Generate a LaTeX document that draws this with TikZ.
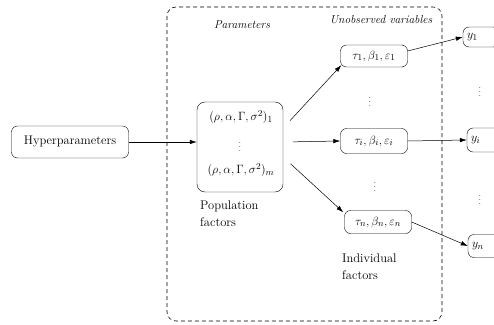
\documentclass[tikz,border=0pt]{standalone}
\usetikzlibrary{arrows.meta}
\begin{document}
\begin{tikzpicture}[x=1pt,y=-1pt,
  font=\fontsize{12.5}{17}\selectfont,
  box/.style={draw, rounded corners=6pt, inner sep=2pt},
  arr/.style={-{Latex[length=7pt,width=4.5pt]}, line width=0.5pt},
  lbl/.style={font=\fontsize{11.5}{14}\selectfont\itshape},
  dots/.style={inner sep=0pt, font=\fontsize{9}{10}\selectfont},
  txt/.style={align=left, anchor=north west, inner sep=0pt}]
\useasboundingbox (0,0) rectangle (494,324);
\clip (0,0) rectangle (494,324);
% dashed frame
\draw[black, line width=0.6pt, dash pattern=on 4pt off 3pt, rounded corners=9pt] (167,7) rectangle (442,321);
\node[lbl] (parlbl) at (242,25) {Parameters};
\node[lbl] (unlbl) at (381,20) {Unobserved variables};
% hyperparameters
\node[box, minimum width=117pt, minimum height=32pt] (hyp) at (70,142) {Hyperparameters};
% population
\node[box, minimum width=86pt, minimum height=90pt, rounded corners=8pt] (pop) at (240,147) {};
\node[inner sep=0pt] (p1) at (241,117) {$(\rho,\alpha,\Gamma,\sigma^{2})_{1}$};
\node[dots] (pd) at (240,144) {$\vdots$};
\node[inner sep=0pt] (pm) at (241,170) {$(\rho,\alpha,\Gamma,\sigma^{2})_{m}$};
\node[txt] (poplbl) at (200,201) {Population\\factors};
% individual
\node[box, minimum width=67pt, minimum height=22pt] (t1) at (374,56) {$\tau_1,\beta_1,\varepsilon_1$};
\node[box, minimum width=67pt, minimum height=25pt] (ti) at (374,141) {$\tau_i,\beta_i,\varepsilon_i$};
\node[box, minimum width=67pt, minimum height=23pt] (tn) at (378,222) {$\tau_n,\beta_n,\varepsilon_n$};
\node[dots] (d1) at (370,99) {$\vdots$};
\node[dots] (d2) at (375,184) {$\vdots$};
\node[txt] (indlbl) at (342,254) {Individual\\factors};
% observations
\node[box, minimum width=36pt, minimum height=20pt, align=left, text width=28pt] (y1) at (481,37) {$y_1$};
\node[box, minimum width=36pt, minimum height=24pt, align=left, text width=28pt] (yi) at (485,140) {$y_i$};
\node[box, minimum width=36pt, minimum height=23pt, align=left, text width=28pt] (yn) at (486,246) {$y_n$};
\node[dots] (d3) at (480,89) {$\vdots$};
\node[dots] (d4) at (480,197) {$\vdots$};
% connectors
\draw[arr] (hyp.east) -- (hyp.east -| pop.west);
\draw[arr, shorten <=10pt] ([yshift=19pt]pop.east) -- ([xshift=1pt,yshift=2pt]t1.south west);
\draw[arr, shorten <=10pt] ([yshift=5pt]pop.east) -- (ti.west);
\draw[arr, shorten <=10pt] ([yshift=-10pt]pop.east) -- ([xshift=-1pt,yshift=-2pt]tn.north west);
\draw[arr] ([yshift=5pt]t1.east) -- (y1.west);
\draw[arr] (ti.east) -- (yi.west);
\draw[arr] (tn.east) -- (yn.west);
\end{tikzpicture}
\end{document}
